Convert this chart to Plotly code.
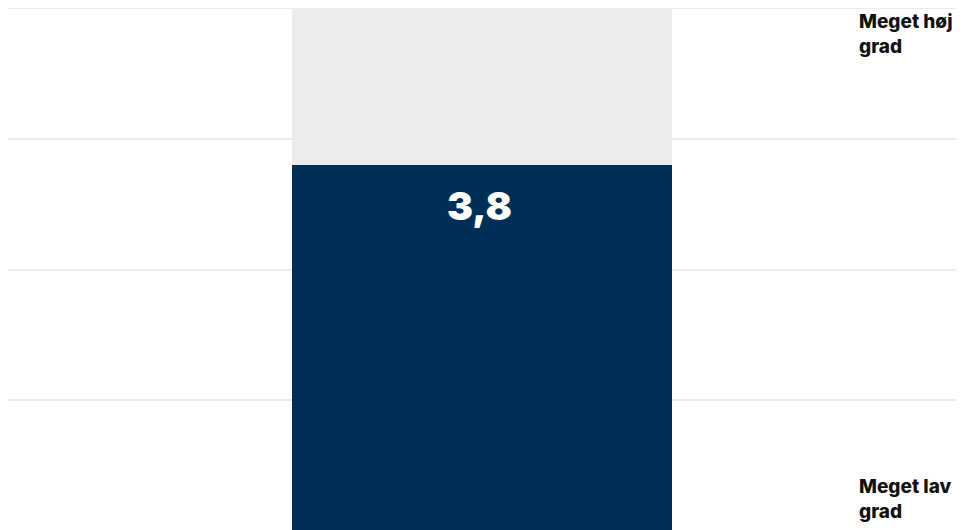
import plotly.graph_objects as go

categories = ["Gennemsnit"]
values = [3.8]
scale_min = 1
scale_max = 5
value_labels = ["3,8"]
top_label = "Meget høj<br>grad"
bottom_label = "Meget lav<br>grad"
tick_values = [1, 2, 3, 4, 5]

remainder = [scale_max - v for v in values]

fig = go.Figure()
fig.add_trace(go.Bar(x=categories, y=values, marker=dict(color="#002f56", line=dict(width=0)),
                     hoverinfo="skip", showlegend=False))
fig.add_trace(go.Bar(x=categories, y=remainder, marker=dict(color="#ebebeb", line=dict(width=0)),
                     hoverinfo="skip", showlegend=False))

# top gridline at the scale maximum (plotly omits gridlines on the plot edge)
fig.add_shape(type="line", xref="paper", yref="y", x0=0, x1=1, y0=scale_max, y1=scale_max,
              line=dict(color="#ebebeb", width=2), layer="below")

for c, v, t in zip(categories, values, value_labels):
    fig.add_annotation(x=c, y=v, text=t, showarrow=False, yanchor="top", yshift=-15,
                       xshift=-3,
                       font=dict(family="Inter", size=39, color="white", weight=900))

fig.add_annotation(xref="paper", yref="paper", x=0.8956, y=1.0, xanchor="left", yanchor="top",
                   text=top_label, showarrow=False, align="left", yshift=0,
                   font=dict(family="Inter", size=19, color="#111111", weight=800))
fig.add_annotation(xref="paper", yref="paper", x=0.8956, y=0.0, xanchor="left", yanchor="bottom",
                   text=bottom_label, showarrow=False, align="left", yshift=6,
                   font=dict(family="Inter", size=19, color="#111111", weight=800))

fig.update_layout(
    width=965, height=530,
    margin=dict(l=0, r=17, t=0, b=7),
    barmode="stack", bargap=0.6,
    plot_bgcolor="white", paper_bgcolor="white",
    xaxis=dict(visible=False),
    yaxis=dict(range=[scale_min, scale_max], tickvals=tick_values, showticklabels=False,
               gridcolor="#ebebeb", gridwidth=2, zeroline=False, showline=False, ticks=""),
)

fig.write_html("out.html")
